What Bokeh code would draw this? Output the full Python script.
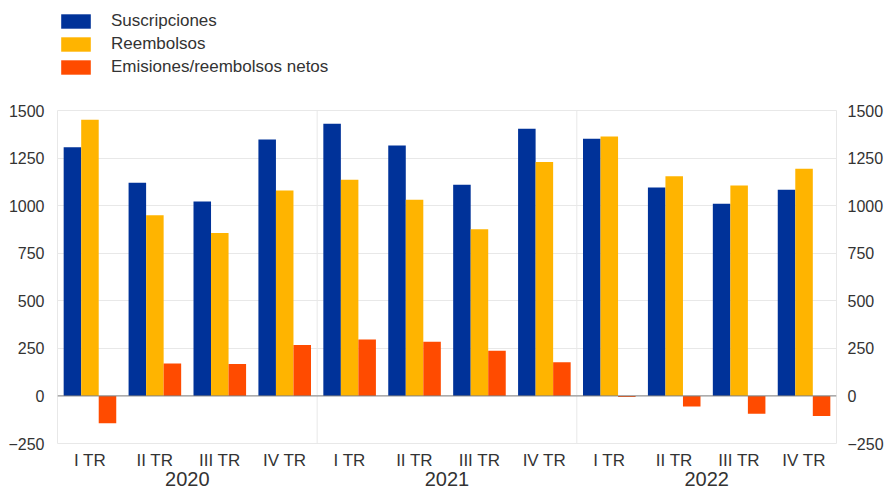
import numpy as np
from bokeh.plotting import figure
from bokeh.layouts import column
from bokeh.models import (FixedTicker, LinearAxis, Span, Legend, LegendItem,
                          Range1d, ColumnDataSource)
from bokeh.transform import dodge
from bokeh.embed import file_html
from bokeh.resources import INLINE

quarters = ["I TR", "II TR", "III TR", "IV TR"] * 3
years = ["2020", "2021", "2022"]
suscripciones = [1307, 1120, 1022, 1348, 1430, 1316, 1110, 1404, 1351, 1096, 1010, 1084]
reembolsos = [1452, 949, 856, 1080, 1136, 1031, 876, 1229, 1363, 1155, 1106, 1194]
netos = [-143, 171, 168, 267, 297, 285, 238, 177, -5, -56, -94, -105]
y_ticks = [-250, 0, 250, 500, 750, 1000, 1250, 1500]
series_names = ["Suscripciones", "Reembolsos", "Emisiones/reembolsos netos"]

BLUE = "#003299"
YELLOW = "#FFB400"
ORANGE = "#FF4B00"
GRID = "#e8e8e8"
TEXT = "#333333"
FONT = "Liberation Sans"
COLORS = [BLUE, YELLOW, ORANGE]

xpos = np.arange(len(quarters)) + 0.5
src = ColumnDataSource(dict(x=xpos, s=suscripciones, r=reembolsos, n=netos))

# ---------- legend strip ----------
lg = figure(width=886, height=86, x_range=Range1d(0, 1), y_range=Range1d(0, 1),
            output_backend="svg", toolbar_location=None,
            min_border_left=55, min_border_right=46, min_border_top=11, min_border_bottom=0)
lg.outline_line_color = None
lg.axis.visible = False
lg.grid.visible = False
# swatch-only renderers (zero-height, so nothing is drawn in the strip itself)
dummy = [lg.vbar(x=[0.5], top=[0], bottom=[0], width=0.1, fill_color=c, line_color=None)
         for c in COLORS]
legend = Legend(items=[LegendItem(label=n, renderers=[r]) for n, r in zip(series_names, dummy)],
                orientation="vertical", location="top_left")
legend.glyph_width = 37
legend.glyph_height = 18
legend.label_height = 18
legend.spacing = 3
legend.label_standoff = 17
legend.padding = 0
legend.margin = 0
legend.border_line_color = None
legend.background_fill_alpha = 0
legend.label_text_font = FONT
legend.label_text_font_size = "17px"
legend.label_text_color = TEXT
lg.add_layout(legend, "center")

# ---------- main chart ----------
p = figure(width=886, height=402, x_range=Range1d(0, 12), y_range=Range1d(-250, 1500),
           output_backend="svg", toolbar_location=None,
           min_border_left=57, min_border_right=46, min_border_top=24, min_border_bottom=0)
p.background_fill_color = "white"
p.border_fill_color = "white"
p.outline_line_color = GRID

bw = 0.27
p.vbar(x=dodge("x", -bw, range=p.x_range), top="s", bottom=0, width=bw, source=src,
       fill_color=BLUE, line_color=None)
p.vbar(x=dodge("x", 0, range=p.x_range), top="r", bottom=0, width=bw, source=src,
       fill_color=YELLOW, line_color=None)
p.vbar(x=dodge("x", bw, range=p.x_range), top="n", bottom=0, width=bw, source=src,
       fill_color=ORANGE, line_color=None)

p.xgrid.visible = False
p.ygrid.ticker = FixedTicker(ticks=y_ticks)
p.ygrid.grid_line_color = GRID
p.ygrid.level = "underlay"

for loc in [4, 8]:
    p.add_layout(Span(location=loc, dimension="height", line_color=GRID, line_width=1, level="underlay"))
p.add_layout(Span(location=0, dimension="width", line_color="#808080", line_width=1))

def style_axis(ax):
    ax.axis_line_color = None
    ax.major_tick_line_color = None
    ax.minor_tick_line_color = None
    ax.major_label_text_font = FONT
    ax.major_label_text_color = TEXT

p.yaxis.ticker = FixedTicker(ticks=y_ticks)
style_axis(p.yaxis[0])
p.yaxis.major_label_text_font_size = "16px"
p.yaxis.major_label_standoff = 7
right = LinearAxis(ticker=FixedTicker(ticks=y_ticks))
style_axis(right)
right.major_label_text_font_size = "16px"
right.major_label_standoff = 5
p.add_layout(right, "right")

p.xaxis.ticker = FixedTicker(ticks=list(xpos))
p.xaxis.major_label_overrides = {float(x): q for x, q in zip(xpos, quarters)}
style_axis(p.xaxis[0])
p.xaxis.major_label_text_font_size = "17px"
p.xaxis.major_label_standoff = 1

year_ticks = [2.0, 6.0, 10.0]
yax = LinearAxis(ticker=FixedTicker(ticks=year_ticks),
                 major_label_overrides={t: y for t, y in zip(year_ticks, years)})
style_axis(yax)
yax.major_label_text_font_size = "20px"
yax.major_label_standoff = -7
p.add_layout(yax, "below")

layout = column(lg, p, spacing=0)
open("out.html", "w").write(file_html(layout, INLINE))
